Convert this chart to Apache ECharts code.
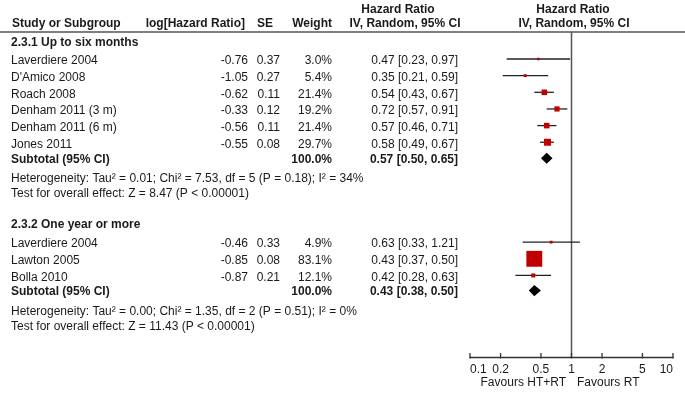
<!DOCTYPE html>
<html><head><meta charset="utf-8">
<script src="https://cdn.jsdelivr.net/npm/echarts@6/dist/echarts.min.js"></script>
<style>html,body{margin:0;padding:0;background:#fff}#c{width:685px;height:400px}</style>
</head><body><div id="c"></div>
<script>
// ---------- data ----------
const groupNames = ["2.3.1 Up to six months", "2.3.2 One year or more"];
const studies = ["Laverdiere 2004", "D'Amico 2008", "Roach 2008", "Denham 2011 (3 m)", "Denham 2011 (6 m)", "Jones 2011",
                 "Laverdiere 2004", "Lawton 2005", "Bolla 2010"];
const studyGroup = [0, 0, 0, 0, 0, 0, 1, 1, 1];
const logHR = ["-0.76", "-1.05", "-0.62", "-0.33", "-0.56", "-0.55", "-0.46", "-0.85", "-0.87"];
const seVals = ["0.37", "0.27", "0.11", "0.12", "0.11", "0.08", "0.33", "0.08", "0.21"];
const weights = [3.0, 5.4, 21.4, 19.2, 21.4, 29.7, 4.9, 83.1, 12.1];
const hr = [0.47, 0.35, 0.54, 0.72, 0.57, 0.58, 0.63, 0.43, 0.42];
const ciLow = [0.23, 0.21, 0.43, 0.57, 0.46, 0.49, 0.33, 0.37, 0.28];
const ciHigh = [0.97, 0.59, 0.67, 0.91, 0.71, 0.67, 1.21, 0.50, 0.63];
const subtotalHR = [0.57, 0.43];
const subtotalLow = [0.50, 0.38];
const subtotalHigh = [0.65, 0.50];
const heterogeneity = ["Heterogeneity: Tau\u00b2 = 0.01; Chi\u00b2 = 7.53, df = 5 (P = 0.18); I\u00b2 = 34%",
                       "Heterogeneity: Tau\u00b2 = 0.00; Chi\u00b2 = 1.35, df = 2 (P = 0.51); I\u00b2 = 0%"];
const overallEffect = ["Test for overall effect: Z = 8.47 (P < 0.00001)",
                       "Test for overall effect: Z = 11.43 (P < 0.00001)"];
const tickValues = [0.1, 0.2, 0.5, 1, 2, 5, 10];
const tickLabels = ["0.1", "0.2", "0.5", "1", "2", "5", "10"];

// ---------- layout (row slots) ----------
const studyRow = [0, 1, 2, 3, 4, 5, 11, 12, 13];
const headerRow = [-1.12, 9.85];
const subtotalRow = [5.9, 13.85];
const hetRow = [7.05, 15.05];
const testRow = [7.95, 15.95];
const ROW0_PX = 61, ROW_PX = 16.65, GRID_TOP = 32, AXIS_Y = 357;
const yMin = (GRID_TOP - ROW0_PX) / ROW_PX;
const yMax = (AXIS_Y - ROW0_PX) / ROW_PX;
const MARK_DY = -2;
const COL = { study: 11, logHR: 248, se: 280, weight: 332, ci: 458 };
const FONT = '"Liberation Sans", Arial, sans-serif';
const TXT = '#1a1a1a';

function ciText(h, l, u) { return h.toFixed(2) + ' [' + l.toFixed(2) + ', ' + u.toFixed(2) + ']'; }

const textItems = [];
for (let g = 0; g < groupNames.length; g++) {
  textItems.push({ row: headerRow[g], x: COL.study, align: 'left', bold: true, text: groupNames[g] });
  studies.forEach((s, i) => {
    if (studyGroup[i] !== g) return;
    const r = studyRow[i];
    textItems.push({ row: r, x: COL.study, align: 'left', text: s });
    textItems.push({ row: r, x: COL.logHR, align: 'right', text: logHR[i] });
    textItems.push({ row: r, x: COL.se, align: 'right', text: seVals[i] });
    textItems.push({ row: r, x: COL.weight, align: 'right', text: weights[i].toFixed(1) + '%' });
    textItems.push({ row: r, x: COL.ci, align: 'right', text: ciText(hr[i], ciLow[i], ciHigh[i]) });
  });
  textItems.push({ row: subtotalRow[g], x: COL.study, align: 'left', bold: true, text: 'Subtotal (95% CI)' });
  textItems.push({ row: subtotalRow[g], x: COL.weight, align: 'right', bold: true, text: '100.0%' });
  textItems.push({ row: subtotalRow[g], x: COL.ci, align: 'right', bold: true, text: ciText(subtotalHR[g], subtotalLow[g], subtotalHigh[g]) });
  textItems.push({ row: hetRow[g], x: COL.study, align: 'left', text: heterogeneity[g] });
  textItems.push({ row: testRow[g], x: COL.study, align: 'left', text: overallEffect[g] });
}

const chart = echarts.init(document.getElementById('c'), null, { renderer: 'canvas' });

const headerStyle = (x, y, text, align) => ({
  type: 'text', x: 0, y: 0, silent: true,
  style: { x, y, text, align, verticalAlign: 'middle', font: 'bold 12px ' + FONT, fill: TXT }
});

chart.setOption({
  animation: false,
  backgroundColor: '#fff',
  grid: { left: 470, right: 12, top: GRID_TOP, bottom: 400 - AXIS_Y, containLabel: false },
  xAxis: {
    type: 'log', logBase: 10, min: 0.1, max: 10,
    axisLine: { show: true, onZero: false, lineStyle: { color: '#333', width: 1.3 } },
    axisTick: { show: false }, axisLabel: { show: false }, splitLine: { show: false }
  },
  yAxis: { type: 'value', inverse: true, min: yMin, max: yMax, show: false },
  graphic: [
    headerStyle(12, 24, 'Study or Subgroup', 'left'),
    headerStyle(245, 24, 'log[Hazard Ratio]', 'right'),
    headerStyle(273, 24, 'SE', 'right'),
    headerStyle(332, 24, 'Weight', 'right'),
    headerStyle(398, 10, 'Hazard Ratio', 'center'),
    headerStyle(405, 24, 'IV, Random, 95% CI', 'center'),
    headerStyle(573, 10, 'Hazard Ratio', 'center'),
    headerStyle(574, 24, 'IV, Random, 95% CI', 'center'),
    { type: 'line', silent: true, shape: { x1: 0, y1: GRID_TOP, x2: 685, y2: GRID_TOP }, style: { stroke: '#555', lineWidth: 1.5 } },
    { type: 'text', silent: true, style: { x: 566, y: 383, text: 'Favours HT+RT', align: 'right', verticalAlign: 'middle', font: '12px ' + FONT, fill: TXT } },
    { type: 'text', silent: true, style: { x: 577, y: 383, text: 'Favours RT', align: 'left', verticalAlign: 'middle', font: '12px ' + FONT, fill: TXT } }
  ],
  series: [
    { // line of no effect
      type: 'custom', coordinateSystem: 'cartesian2d', clip: false, silent: true, z: 1,
      data: [[1]],
      encode: { x: 0 },
      renderItem: (params, api) => {
        const top = api.coord([api.value(0), yMin]);
        const bot = api.coord([api.value(0), yMax]);
        return { type: 'line', shape: { x1: top[0], y1: top[1], x2: bot[0], y2: bot[1] }, style: { stroke: '#555', lineWidth: 1.5 } };
      }
    },
    { // axis ticks + labels
      type: 'custom', coordinateSystem: 'cartesian2d', clip: false, silent: true, z: 3,
      data: tickValues.map(v => [v]),
      encode: { x: 0 },
      renderItem: (params, api) => {
        const p = api.coord([api.value(0), yMax]);
        const i = params.dataIndex;
        const align = i === 0 ? 'left' : (i === tickValues.length - 1 ? 'right' : 'center');
        return { type: 'group', children: [
          { type: 'line', shape: { x1: p[0], y1: p[1] - 4, x2: p[0], y2: p[1] + 1.5 }, style: { stroke: '#333', lineWidth: 1.3 } },
          { type: 'text', style: { x: p[0], y: p[1] + 12.5, text: tickLabels[i], align, verticalAlign: 'middle', font: '12px ' + FONT, fill: TXT } }
        ] };
      }
    },
    { // study estimates
      type: 'custom', coordinateSystem: 'cartesian2d', clip: false, silent: true, z: 4,
      data: studies.map((s, i) => [hr[i], ciLow[i], ciHigh[i], studyRow[i], weights[i]]),
      encode: { x: [0, 1, 2], y: 3 },
      renderItem: (params, api) => {
        const row = api.value(3);
        const c = api.coord([api.value(0), row]);
        const l = api.coord([api.value(1), row]);
        const h = api.coord([api.value(2), row]);
        const y = c[1] + MARK_DY;
        const s = 2 + 0.167 * api.value(4);
        return { type: 'group', children: [
          { type: 'line', shape: { x1: l[0], y1: y, x2: h[0], y2: y }, style: { stroke: '#222', lineWidth: 1.3 } },
          { type: 'rect', shape: { x: c[0] - s / 2, y: y - s / 2, width: s, height: s }, style: { fill: '#c00000' } }
        ] };
      }
    },
    { // subtotal diamonds
      type: 'custom', coordinateSystem: 'cartesian2d', clip: false, silent: true, z: 4,
      data: subtotalHR.map((v, g) => [v, subtotalLow[g], subtotalHigh[g], subtotalRow[g]]),
      encode: { x: [0, 1, 2], y: 3 },
      renderItem: (params, api) => {
        const row = api.value(3);
        const c = api.coord([api.value(0), row]);
        const l = api.coord([api.value(1), row]);
        const h = api.coord([api.value(2), row]);
        const y = c[1] + MARK_DY + 1;
        return { type: 'polygon', shape: { points: [[l[0], y], [c[0], y - 5.6], [h[0], y], [c[0], y + 5.6]] }, style: { fill: '#000' } };
      }
    },
    { // table text
      type: 'custom', coordinateSystem: 'cartesian2d', clip: false, silent: true, z: 5,
      data: textItems.map(t => [1, t.row]),
      encode: { x: 0, y: 1 },
      renderItem: (params, api) => {
        const t = textItems[params.dataIndex];
        const y = api.coord([api.value(0), api.value(1)])[1];
        return { type: 'text', style: { x: t.x, y, text: t.text, align: t.align, verticalAlign: 'middle', font: (t.bold ? 'bold ' : '') + '12px ' + FONT, fill: TXT } };
      }
    }
  ]
});
</script></body></html>
